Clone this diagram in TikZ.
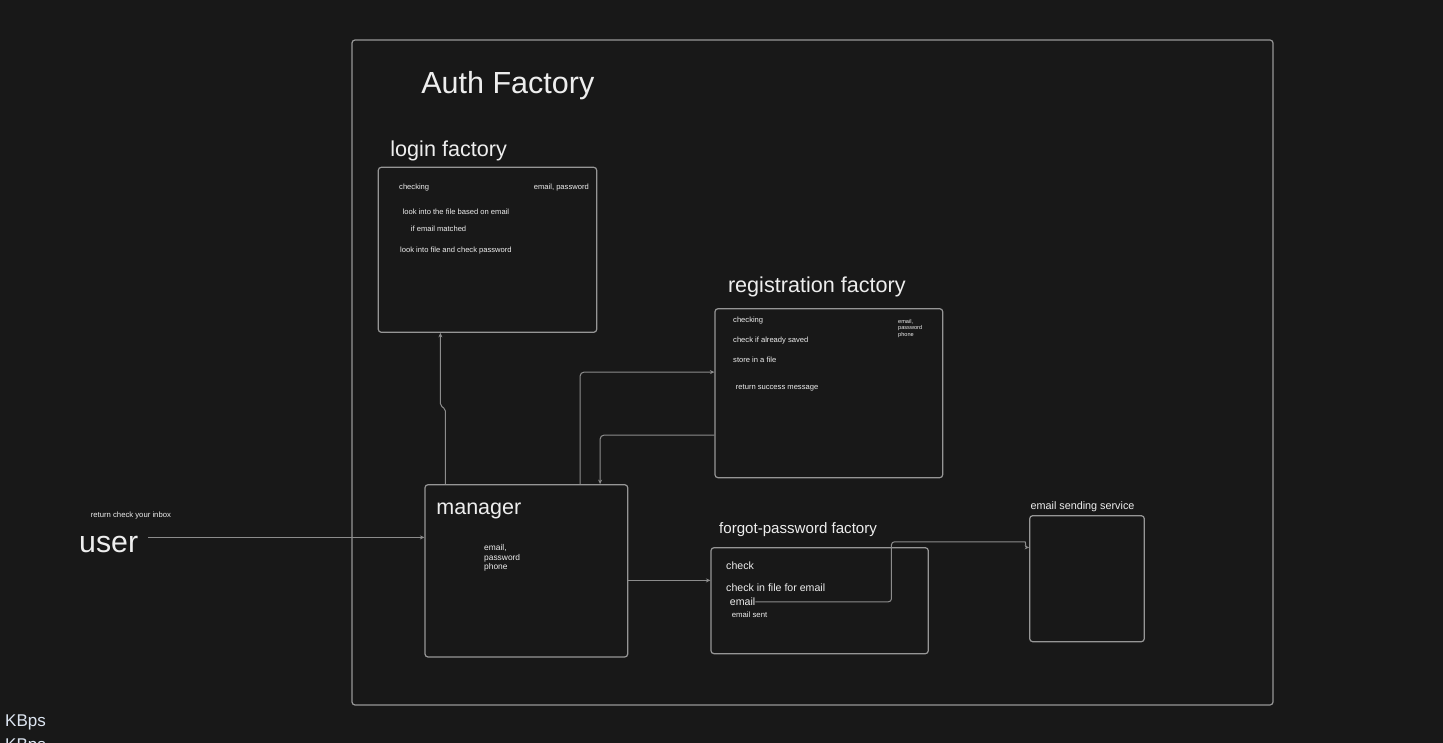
\documentclass[tikz,border=0pt]{standalone}
\usepackage{fontspec}
\setmainfont{Liberation Sans}
\usetikzlibrary{arrows.meta,calc}
\definecolor{bg}{HTML}{181818}
\definecolor{edge}{HTML}{969696}
\definecolor{wire}{HTML}{8C8C8C}
\definecolor{ink}{HTML}{EEEEEE}
\definecolor{kbps}{HTML}{DCE4F0}
\newcommand\fsz[1]{\fontsize{#1}{#1}\selectfont}

\begin{document}
\begin{tikzpicture}[x=1pt,y=-1pt,
  box/.style={draw=edge, line width=1.2pt, rounded corners=3pt, inner sep=0pt},
  conn/.style={draw=wire, line width=1pt, -{Stealth[length=4.5pt,width=4pt]}},
  lbl/.style={anchor=base west, inner sep=0pt, text=ink, yshift=-0.8pt},
]
\fill[bg] (0,0) rectangle (1443,743);
\useasboundingbox (0,0) rectangle (1443,743);

% containers
\node[box, minimum width=921pt,   minimum height=665pt]   (auth)    at (812.5,372.5) {};
\node[box, minimum width=218.4pt, minimum height=165pt]   (login)   at (487.5,249.8) {};
\node[box, minimum width=227.7pt, minimum height=169pt]   (reg)     at (828.85,393.2) {};
\node[box, minimum width=202.7pt, minimum height=172.3pt] (manager) at (526.35,570.85) {};
\node[box, minimum width=217.3pt, minimum height=106pt]   (forgot)  at (819.65,600.7) {};
\node[box, minimum width=114.6pt, minimum height=126pt]   (ess)     at (1087,578.7) {};

% titles
\node[lbl, font=\fsz{30.5}] (authT)  at (421.2,92.3)  {Auth Factory};
\node[lbl, font=\fsz{21.6}] (loginT) at (390.2,155.7) {login factory};
\node[lbl, font=\fsz{21.6}] (regT)   at (727.8,291.7) {registration factory};
\node[lbl, font=\fsz{21.5}] (mgrT)   at (436.2,513.3) {manager};
\node[lbl, font=\fsz{15.1}] (fpT)    at (719,532.3) {forgot-password factory};
\node[lbl, font=\fsz{10.8}] (essT)   at (1030.4,508.3) {email sending service};
\node[lbl, font=\fsz{30.3}] (user)   at (79,552) {user};
\node[lbl, font=\fsz{7.7}]  (inbox)  at (90.7,516.3) {return check your inbox};

% login factory notes
\node[lbl, font=\fsz{7.6}] (l1) at (399,188.5) {checking};
\node[lbl, font=\fsz{7.6}, anchor=base east] (l2) at (589,188.5) {email, password};
\node[lbl, font=\fsz{7.6}] (l3) at (402.5,213.7) {look into the file based on email};
\node[lbl, font=\fsz{7.6}] (l4) at (410.7,231) {if email matched};
\node[lbl, font=\fsz{7.6}] (l5) at (400,251.3) {look into file and check password};

% registration factory notes
\node[lbl, font=\fsz{7.6}] (r1) at (733,321.7) {checking};
\node[lbl, font=\fsz{7.6}] (r2) at (733,341.7) {check if already saved};
\node[lbl, font=\fsz{7.6}] (r3) at (733,361.7) {store in a file};
\node[lbl, font=\fsz{7.6}] (r4) at (735.7,388.3) {return success message};
\node[lbl, font=\fsz{5.6}] (r5) at (898,323) {email,};
\node[lbl, font=\fsz{5.6}] (r6) at (898,329.2) {password};
\node[lbl, font=\fsz{5.6}] (r7) at (898,335.4) {phone};

% manager notes
\node[lbl, font=\fsz{8.4}] (m1) at (484,549.5) {email,};
\node[lbl, font=\fsz{8.4}] (m2) at (484,559.2) {password};
\node[lbl, font=\fsz{8.4}] (m3) at (484,568.7) {phone};

% forgot-password notes
\node[lbl, font=\fsz{10.6}] (f1) at (726,569) {check};
\node[lbl, font=\fsz{10.6}] (f2) at (726,590.5) {check in file for email};
\node[lbl, font=\fsz{10.6}] (email) at (729.7,604.8) {email};
\node[lbl, font=\fsz{7.75}] (f4) at (731.7,617) {email sent};

% status text in the corner
\node[anchor=base west, inner sep=0pt, text=kbps, font=\fsz{17}] (kb1) at (5,726.7) {KBps};
\node[anchor=base west, inner sep=0pt, text=kbps, font=\fsz{17}] (kb2) at (5,750.7) {KBps};

% connectors
\coordinate (mIn) at ($(manager.north west)+(0,53.3)$);
\draw[conn] ($(user.east |- mIn)+(10,0)$) -- (mIn);

\draw[conn, rounded corners=2pt] ($(manager.north west)+(21,0)$) -- ++(0,-75) -- ++(-5,-3.5)
  -- ($(login.south west)+(62.7,0)$);

\draw[conn, rounded corners=4pt] ($(manager.north west)+(155.7,0)$) |- ($(reg.north west)+(0,64)$);

\draw[conn, rounded corners=4pt] ($(reg.north west)+(0,127)$) -| ($(manager.north west)+(175.7,0)$);

\coordinate (fIn) at ($(forgot.north west)+(0,33.3)$);
\draw[conn] (manager.east |- fIn) -- (fIn);

\draw[conn, rounded corners=3pt] (email.east) -| ++(136,-60) coordinate (k)
  -- ($(ess.west |- k)+(-7,0)$) to[out=0,in=180] ($(ess.north west)+(0,32.3)$);
\end{tikzpicture}
\end{document}
